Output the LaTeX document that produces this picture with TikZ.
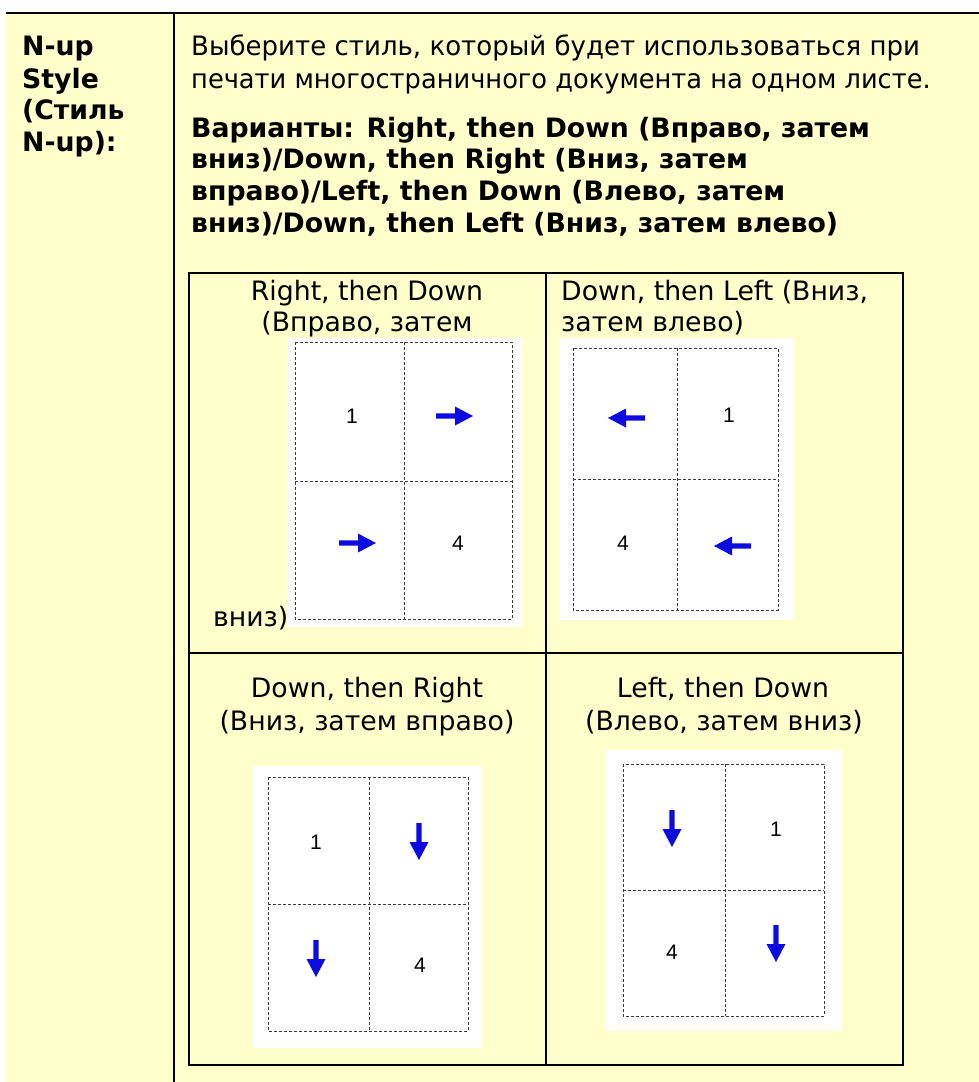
\documentclass[tikz,border=0pt]{standalone}
\usepackage{fontspec}
\setmainfont{DejaVu Sans}
\newfontfamily\numfont{Liberation Sans}
\definecolor{bgyellow}{RGB}{255,255,204}
\definecolor{arrblue}{RGB}{12,12,225}
\definecolor{gridgray}{RGB}{60,60,60}
\tikzset{
  arr/.pic={\fill[arrblue] (-19,-2.7) -- (0,-2.7) -- (0,-9.5) -- (18,0) -- (0,9.5) -- (0,2.7) -- (-19,2.7) -- cycle;},
}
\begin{document}
\begin{tikzpicture}[x=1pt,y=-1pt,
  txt/.style={inner sep=0pt, anchor=base west, font=\fontsize{26.7}{32}\selectfont},
  txtb/.style={inner sep=0pt, anchor=base west, font=\fontsize{26.7}{32}\selectfont\bfseries},
  txtc/.style={inner sep=0pt, anchor=base, font=\fontsize{26.7}{32}\selectfont},
  num/.style={inner sep=0pt, font=\numfont\fontsize{21}{21}\selectfont},
  borderline/.style={line width=2pt, draw=black},
  dashgrid/.style={line width=0.9pt, dash pattern=on 3pt off 2pt, draw=gridgray},
  whitebox/.style={fill=white, draw=none},
]
\useasboundingbox (0,0) rectangle (979,1082);
\fill[white] (0,0) rectangle (979,1082);
% outer table
\fill[bgyellow] (6,13) rectangle (979,1082);
\coordinate (tl) at (6,13);
\coordinate (tr) at (979,13);
\coordinate (dt) at (174,13);
\coordinate (db) at (174,1082);
\draw[borderline] (tl) -- (tr);
\draw[borderline] (dt) -- (db);

% left column
\node[txtb] (l1) at (22,55) {N-up};
\node[txtb] (l2) at (22,88) {Style};
\node[txtb] (l3) at (22,119) {(Стиль};
\node[txtb] (l4) at (22,151) {N-up):};

% right column paragraph
\node[txt] (p1) at (191,55) {\scalebox{0.975}[1]{Выберите стиль, который будет использоваться при}};
\node[txt] (p2) at (191,88) {\scalebox{0.962}[1]{печати многостраничного документа на одном листе.}};
\node[txtb] (b1) at (191,137) {Варианты: Right, then Down (Вправо, затем};
\node[txtb] (b2) at (191,168) {вниз)/Down, then Right (Вниз, затем};
\node[txtb] (b3) at (191,200) {вправо)/Left, then Down (Влево, затем};
\node[txtb] (b4) at (191,232) {вниз)/Down, then Left (Вниз, затем влево)};

% inner table
\draw[borderline] (189,273) rectangle (903,1065);
\draw[borderline] (546,273) -- (546,1065);
\draw[borderline] (189,653) -- (903,653);

% cell 1: Right, then Down
\node[txtc] (t1a) at (367,300) {Right, then Down};
\node[txtc] (t1b) at (367,331) {(Вправо, затем};
\node[txt] (t1c) at (213,626) {вниз)};
\fill[whitebox] (288,338) rectangle (523,627);
\draw[dashgrid] (295,342) rectangle (512,619);
\draw[dashgrid] (404,342) -- (404,619);
\draw[dashgrid] (295,481) -- (512,481);
\node[num] (n1a) at (352,416) {1};
\node[num] (n1b) at (458,543) {4};
\pic at (455,416) {arr};
\pic at (358,543) {arr};

% cell 2: Down, then Left
\node[txt] (t2a) at (561,300) {Down, then Left (Вниз,};
\node[txt] (t2b) at (561,331) {затем влево)};
\fill[whitebox] (560,338) rectangle (794,620);
\draw[dashgrid] (573,348) rectangle (778,610);
\draw[dashgrid] (677,348) -- (677,610);
\draw[dashgrid] (573,479) -- (778,479);
\node[num] (n2a) at (729,415) {1};
\node[num] (n2b) at (623,543) {4};
\pic[rotate=180] at (626,418) {arr};
\pic[rotate=180] at (732,546) {arr};

% cell 3: Down, then Right
\node[txtc] (t3a) at (367,697) {Down, then Right};
\node[txtc] (t3b) at (367,730) {(Вниз, затем вправо)};
\fill[whitebox] (253,766) rectangle (482,1048);
\draw[dashgrid] (268,777) rectangle (468,1031);
\draw[dashgrid] (369,777) -- (369,1031);
\draw[dashgrid] (268,904) -- (468,904);
\node[num] (n3a) at (316,842) {1};
\node[num] (n3b) at (420,965) {4};
\pic[rotate=-90] at (419,842) {arr};
\pic[rotate=-90] at (316,959) {arr};

% cell 4: Left, then Down
\node[txtc] (t4a) at (723,697) {Left, then Down};
\node[txtc] (t4b) at (724,730) {(Влево, затем вниз)};
\fill[whitebox] (606,750) rectangle (842,1031);
\draw[dashgrid] (623,764) rectangle (824,1016);
\draw[dashgrid] (725,764) -- (725,1016);
\draw[dashgrid] (623,890) -- (824,890);
\node[num] (n4a) at (776,829) {1};
\node[num] (n4b) at (672,952) {4};
\pic[rotate=-90] at (672,829) {arr};
\pic[rotate=-90] at (776,944) {arr};
\end{tikzpicture}
\end{document}
